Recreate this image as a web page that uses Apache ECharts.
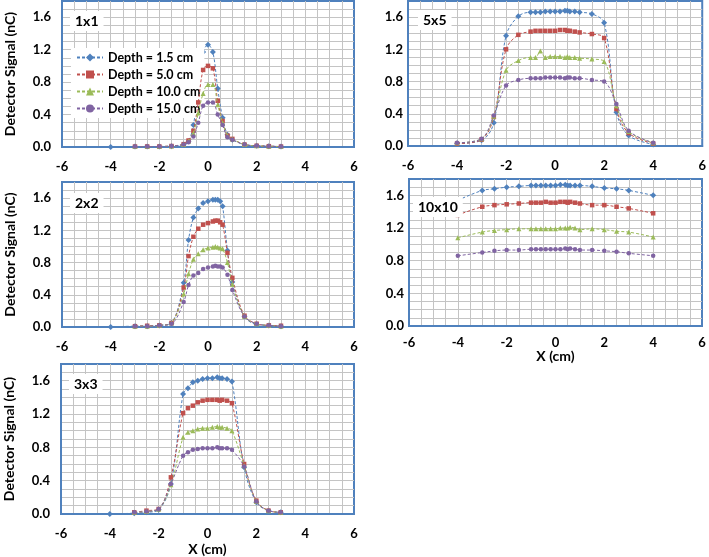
<!DOCTYPE html>
<html>
<head>
<meta charset="utf-8">
<script src="https://cdn.jsdelivr.net/npm/echarts@6/dist/echarts.min.js"></script>
<style>html,body{margin:0;padding:0;background:#fff;}#c{width:709px;height:557px;}</style>
</head>
<body>
<div id="c"></div>
<script>
// ---- Data ----
const seriesNames = ['Depth = 1.5 cm', 'Depth = 5.0 cm', 'Depth = 10.0 cm', 'Depth = 15.0 cm'];
const panelNames = ['1x1', '5x5', '2x2', '10x10', '3x3'];
const xTicks = [-6, -4, -2, 0, 2, 4, 6];
const yTicks = [0.0, 0.4, 0.8, 1.2, 1.6];

// 1x1
const x1 = [-4, -3, -2.5, -2, -1.5, -1, -0.8, -0.6, -0.4, -0.2, 0, 0.2, 0.4, 0.6, 0.8, 1, 1.5, 2, 2.5, 3];
const b1 = [0.0, 0.005, 0.005, 0.005, 0.01, 0.03, 0.07, 0.27, 0.72, 1.17, 1.26, 1.17, 0.72, 0.36, 0.15, 0.09, 0.03, 0.015, 0.01, 0.005];
const r1 = [null, 0.005, 0.006, 0.006, 0.012, 0.035, 0.08, 0.2, 0.55, 0.95, 1.0, 0.97, 0.57, 0.32, 0.14, 0.1, 0.03, 0.015, 0.01, 0.005];
const g1 = [null, 0.005, 0.005, 0.006, 0.012, 0.03, 0.07, 0.17, 0.42, 0.66, 0.77, 0.77, 0.52, 0.3, 0.14, 0.1, 0.03, 0.015, 0.01, 0.005];
const p1 = [null, 0.005, 0.005, 0.006, 0.012, 0.03, 0.06, 0.13, 0.3, 0.51, 0.55, 0.55, 0.4, 0.27, 0.12, 0.09, 0.03, 0.015, 0.01, 0.005];

// 5x5
const x2 = [-4, -3, -2.5, -2, -1.5, -1, -0.8, -0.6, -0.4, -0.2, 0, 0.2, 0.4, 0.5, 0.6, 0.8, 1, 1.5, 2, 2.5, 3, 4];
const b2 = [0.03, 0.07, 0.29, 1.37, 1.61, 1.66, 1.66, 1.66, 1.67, 1.67, 1.67, 1.67, 1.68, 1.68, 1.67, 1.67, 1.66, 1.64, 1.53, 0.42, 0.13, 0.02];
const r2 = [0.03, 0.08, 0.36, 1.20, 1.38, 1.42, 1.43, 1.43, 1.43, 1.43, 1.43, 1.44, 1.44, 1.43, 1.43, 1.42, 1.41, 1.39, 1.34, 0.46, 0.16, 0.03];
const g2 = [0.04, 0.09, 0.37, 0.94, 1.06, 1.10, 1.10, 1.18, 1.10, 1.11, 1.11, 1.11, 1.10, 1.11, 1.10, 1.10, 1.09, 1.08, 1.05, 0.50, 0.18, 0.04];
const p2 = [0.04, 0.09, 0.38, 0.75, 0.82, 0.84, 0.84, 0.84, 0.85, 0.85, 0.85, 0.85, 0.84, 0.85, 0.85, 0.84, 0.84, 0.82, 0.80, 0.52, 0.19, 0.04];

// 2x2
const x3 = [-4, -3, -2.5, -2, -1.5, -1, -0.8, -0.6, -0.4, -0.2, 0, 0.2, 0.3, 0.4, 0.5, 0.6, 0.8, 1, 1.5, 2, 2.5, 3];
const b3 = [0.0, 0.01, 0.01, 0.02, 0.05, 0.55, 1.08, 1.36, 1.47, 1.54, 1.56, 1.58, 1.58, 1.58, 1.56, 1.50, 0.95, 0.56, 0.13, 0.03, 0.02, 0.01];
const r3 = [null, 0.01, 0.015, 0.02, 0.05, 0.49, 0.88, 1.12, 1.22, 1.27, 1.29, 1.31, 1.32, 1.32, 1.30, 1.27, 0.92, 0.61, 0.14, 0.04, 0.02, 0.015];
const g3 = [null, 0.01, 0.01, 0.02, 0.05, 0.41, 0.66, 0.84, 0.91, 0.96, 0.98, 0.99, 1.0, 0.99, 0.98, 0.97, 0.80, 0.53, 0.13, 0.04, 0.02, 0.01];
const p3 = [null, 0.01, 0.01, 0.02, 0.04, 0.31, 0.52, 0.64, 0.67, 0.72, 0.74, 0.75, 0.76, 0.75, 0.75, 0.74, 0.65, 0.46, 0.13, 0.04, 0.02, 0.01];

// 10x10
const x4 = [-4, -3, -2.5, -2, -1.5, -1, -0.8, -0.6, -0.4, -0.2, 0, 0.2, 0.4, 0.5, 0.6, 0.8, 1, 1.5, 2, 2.5, 3, 4];
const b4 = [1.54, 1.66, 1.68, 1.70, 1.71, 1.72, 1.72, 1.72, 1.72, 1.72, 1.72, 1.73, 1.73, 1.72, 1.72, 1.72, 1.72, 1.71, 1.69, 1.68, 1.66, 1.60];
const r4 = [1.36, 1.46, 1.48, 1.49, 1.50, 1.51, 1.51, 1.51, 1.52, 1.51, 1.51, 1.52, 1.52, 1.51, 1.52, 1.51, 1.50, 1.48, 1.48, 1.46, 1.44, 1.38];
const g4 = [1.08, 1.15, 1.17, 1.18, 1.19, 1.19, 1.19, 1.19, 1.19, 1.19, 1.19, 1.20, 1.20, 1.20, 1.21, 1.20, 1.18, 1.19, 1.18, 1.16, 1.15, 1.09];
const p4 = [0.86, 0.90, 0.92, 0.93, 0.93, 0.94, 0.94, 0.94, 0.94, 0.94, 0.94, 0.94, 0.95, 0.94, 0.95, 0.94, 0.93, 0.93, 0.92, 0.91, 0.89, 0.86];

// 3x3
const x5 = [-4, -3, -2.5, -2, -1.5, -1, -0.8, -0.6, -0.4, -0.2, 0, 0.2, 0.4, 0.5, 0.6, 0.8, 1, 1.5, 2, 2.5, 3];
const b5 = [0.0, 0.01, 0.02, 0.05, 0.36, 1.44, 1.51, 1.58, 1.60, 1.62, 1.63, 1.63, 1.64, 1.63, 1.63, 1.62, 1.59, 0.56, 0.14, 0.04, 0.02];
const r5 = [null, 0.02, 0.04, 0.06, 0.44, 1.21, 1.27, 1.30, 1.34, 1.36, 1.37, 1.37, 1.37, 1.36, 1.37, 1.36, 1.33, 0.60, 0.16, 0.04, 0.02];
const g5 = [null, 0.02, 0.03, 0.06, 0.35, 0.92, 0.98, 1.00, 1.02, 1.03, 1.03, 1.04, 1.05, 1.04, 1.04, 1.03, 1.00, 0.58, 0.15, 0.04, 0.02];
const p5 = [null, 0.02, 0.03, 0.06, 0.36, 0.70, 0.74, 0.77, 0.78, 0.79, 0.79, 0.79, 0.80, 0.79, 0.79, 0.79, 0.77, 0.57, 0.15, 0.04, 0.02];

// ---- Styling / layout ----
const FONT = 'Lato, "Liberation Sans", sans-serif';
const colors = ['#4F81BD', '#C0504D', '#9BBB59', '#8064A2'];
const symbols = ['diamond', 'rect', 'triangle', 'circle'];
const symbolSizes = [6, 4.5, 5, 4.5];
const BORDER = '#4F81BD';
const GRIDC = '#C4C4C4';

const panels = [
  { xs: x1, ys: [b1, r1, g1, p1], grid: { left: 62, top: 1, width: 292, height: 146 }, yName: true, xName: false, yMargin: 11, xMargin: 13, title: { left: 70, top: 11 } },
  { xs: x2, ys: [b2, r2, g2, p2], grid: { left: 408, top: 1, width: 297, height: 145 }, yName: false, xName: false, yMargin: 5, xMargin: 13, title: { left: 418, top: 10 } },
  { xs: x3, ys: [b3, r3, g3, p3], grid: { left: 62, top: 182, width: 292, height: 145 }, yName: true, xName: false, yMargin: 11, xMargin: 13, title: { left: 70, top: 193 } },
  { xs: x4, ys: [b4, r4, g4, p4], grid: { left: 409, top: 179, width: 293, height: 147 }, yName: false, xName: true, yMargin: 5, xMargin: 10, title: { left: 413, top: 197 } },
  { xs: x5, ys: [b5, r5, g5, p5], grid: { left: 61, top: 364, width: 293, height: 152 }, yName: true, xName: true, yMargin: 11, xMargin: 13, title: { left: 69, top: 374 } }
];

function near(v, list) { return list.some(t => Math.abs(t - v) < 1e-6); }

const grids = [], xAxes = [], yAxes = [], series = [], titles = [];
panels.forEach((p, i) => {
  grids.push(Object.assign({ show: true, backgroundColor: '#fff', borderColor: BORDER, borderWidth: 2, containLabel: false }, p.grid));
  xAxes.push({
    type: 'value', gridIndex: i, min: -6, max: 6, interval: 0.5,
    name: p.xName ? 'X (cm)' : '', nameLocation: 'middle', nameGap: i === 3 ? 23 : 28,
    nameTextStyle: { fontFamily: FONT, fontWeight: 'bold', fontSize: 14, color: '#000' },
    axisLine: { show: true, onZero: false, lineStyle: { color: BORDER, width: 2 } },
    axisTick: { show: false },
    axisLabel: { margin: p.xMargin, fontFamily: FONT, fontWeight: 'bold', fontSize: 13, color: '#000',
      formatter: v => near(v, xTicks) ? String(Math.round(v)) : '' },
    splitLine: { show: true, showMinLine: false, showMaxLine: false, lineStyle: { color: GRIDC, width: 1 } }
  });
  yAxes.push({
    type: 'value', gridIndex: i, min: 0, max: 1.8, interval: 0.1,
    name: p.yName ? 'Detector Signal (nC)' : '', nameLocation: 'middle', nameGap: 45, nameRotate: 90,
    nameTextStyle: { fontFamily: FONT, fontWeight: 'bold', fontSize: 14, color: '#000' },
    axisLine: { show: true, onZero: false, lineStyle: { color: BORDER, width: 2 } },
    axisTick: { show: false },
    axisLabel: { margin: p.yMargin, fontFamily: FONT, fontWeight: 'bold', fontSize: 13, color: '#000',
      formatter: v => near(v, yTicks) ? v.toFixed(1) : '' },
    splitLine: { show: true, showMinLine: false, showMaxLine: false, lineStyle: { color: GRIDC, width: 1 } }
  });
  p.ys.forEach((ys, k) => {
    series.push({
      type: 'line', name: seriesNames[k], xAxisIndex: i, yAxisIndex: i,
      data: p.xs.map((x, j) => [x, ys[j]]),
      smooth: 0.35, connectNulls: false,
      symbol: symbols[k], symbolSize: symbolSizes[k], showSymbol: true,
      itemStyle: { color: colors[k] },
      lineStyle: { color: colors[k], width: 1, type: [3, 2] },
      animation: false, z: 3 + k
    });
  });
  titles.push({
    text: panelNames[i], left: p.title.left, top: p.title.top,
    backgroundColor: '#fff', padding: [3, 5, 3, 5],
    textStyle: { fontFamily: FONT, fontWeight: 'bold', fontSize: 14, color: '#000' }
  });
});

const chart = echarts.init(document.getElementById('c'), null, { renderer: 'canvas' });
chart.setOption({
  animation: false,
  backgroundColor: '#fff',
  title: titles,
  grid: grids,
  xAxis: xAxes,
  yAxis: yAxes,
  legend: {
    data: seriesNames, orient: 'vertical', left: 71, top: 48,
    backgroundColor: '#fff', padding: [3, 4, 3, 5],
    itemWidth: 26, itemHeight: 10, itemGap: 4,
    textStyle: { fontFamily: FONT, fontWeight: 'bold', fontSize: 12.5, color: '#000' }
  },
  series: series
});
</script>
</body>
</html>
